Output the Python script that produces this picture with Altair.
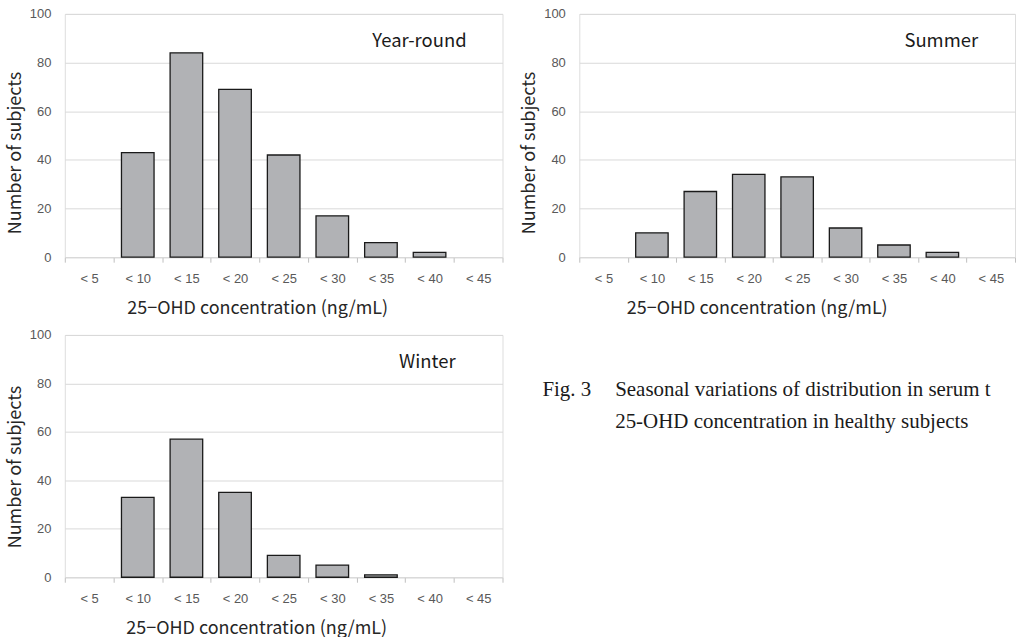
import altair as alt
import pandas as pd

categories = ["< 5", "< 10", "< 15", "< 20", "< 25", "< 30", "< 35", "< 40", "< 45"]
year_round = [0, 43, 84, 69, 42, 17, 6, 2, 0]
summer = [0, 10, 27, 34, 33, 12, 5, 2, 0]
winter = [0, 33, 57, 35, 9, 5, 1, 0, 0]

y_ticks = [0, 20, 40, 60, 80, 100]
x_title = "25−OHD concentration (ng/mL)"
y_title = "Number of subjects"
caption_fig = "Fig. 3"
caption_line1 = "Seasonal variations of distribution in serum t"
caption_line2 = "25-OHD concentration in healthy subjects"

SANS = "Noto Sans CJK JP"
LABEL_FONT = "Liberation Sans"


def panel(values, label, width, height, label_right, x_title_x, y_title_y):
    df = pd.DataFrame({"cat": categories, "n": values})
    bars = alt.Chart(df).transform_filter(
        alt.datum.n > 0
    ).mark_bar(
        width=alt.RelativeBandSize(0.67),
        color="#b1b2b5",
        stroke="#1a1a1a",
        strokeWidth=1.3,
    ).encode(
        x=alt.X(
            "cat:N",
            sort=categories,
            scale=alt.Scale(domain=categories, paddingInner=0, paddingOuter=0),
            axis=alt.Axis(
                title=x_title,
                labelAngle=0,
                tickBand="extent",
                ticks=True,
                tickSize=5,
                tickColor="#bfbfbf",
                domain=True,
                domainColor="#d9d9d9",
                grid=False,
                labelFont=LABEL_FONT,
                labelFontSize=13,
                labelColor="#595959",
                labelPadding=10,
                titleFont=SANS,
                titleFontSize=18,
                titleFontWeight="normal",
                titleColor="#262626",
                titlePadding=14,
                titleX=x_title_x,
            ),
        ),
        y=alt.Y(
            "n:Q",
            scale=alt.Scale(domain=[0, 100], nice=False),
            axis=alt.Axis(
                title=y_title,
                values=y_ticks,
                ticks=False,
                domain=False,
                grid=True,
                gridColor="#d9d9d9",
                gridWidth=1,
                labelFont=LABEL_FONT,
                labelFontSize=13,
                labelColor="#595959",
                labelPadding=14,
                titleFont=SANS,
                titleFontSize=18,
                titleFontWeight="normal",
                titleColor="#262626",
                titlePadding=5,
                titleY=y_title_y,
            ),
        ),
    )
    txt = alt.Chart(pd.DataFrame({"t": [label]})).mark_text(
        align="right", baseline="middle", font=SANS, fontSize=18.5, color="#1a1a1a"
    ).encode(
        text="t:N",
        x=alt.value(width - label_right),
        y=alt.value(27),
    )
    return alt.layer(bars, txt).properties(width=width, height=height)


p1 = panel(year_round, "Year-round", 439, 244, 36, 193, 139)
p2 = panel(summer, "Summer", 437, 244, 37, 178, 139)
p3 = panel(winter, "Winter", 439, 243, 47, 192, 132)

serif = dict(align="left", baseline="alphabetic", font="Liberation Serif",
             fontSize=21, color="#1a1a1a")
cap1 = alt.Chart(pd.DataFrame({"t": [caption_fig]})).mark_text(**serif).encode(
    text="t:N", x=alt.value(22), y=alt.value(61))
cap2 = alt.Chart(pd.DataFrame({"t": [caption_line1]})).mark_text(**serif).encode(
    text="t:N", x=alt.value(95), y=alt.value(61))
cap3 = alt.Chart(pd.DataFrame({"t": [caption_line2]})).mark_text(**serif).encode(
    text="t:N", x=alt.value(95), y=alt.value(93))
caption = alt.layer(cap1, cap2, cap3).properties(
    width=437, height=243, view=alt.ViewBackground(stroke="transparent")
)

top = alt.hconcat(p1, p2, spacing=16)
bottom = alt.hconcat(p3, caption, spacing=16)

chart = alt.vconcat(top, bottom, spacing=10).properties(
    padding={"left": 5, "top": 6, "right": 0, "bottom": 0}
).configure_view(
    stroke="#bfbfbf", strokeWidth=1
).configure(background="white")

chart.save("out.html", embed_options={"renderer": "svg", "actions": False})
